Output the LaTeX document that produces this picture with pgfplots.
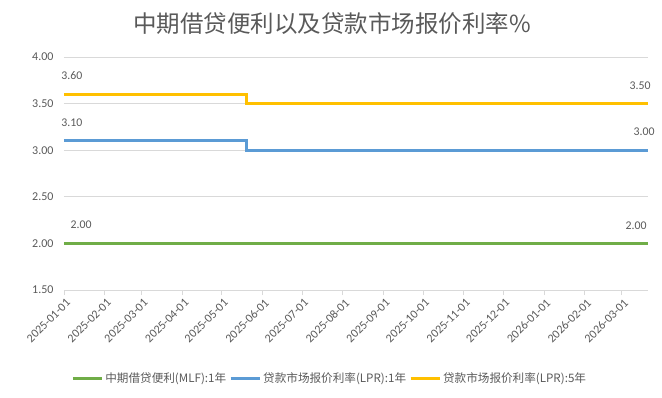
\documentclass[border=0pt]{standalone}
\usepackage{pgfplots}
\pgfplotsset{compat=1.18}
\usepackage{fontspec}
\setmainfont{Carlito}
\newfontfamily\cjk{Noto Sans CJK SC}
\definecolor{cgreen}{HTML}{70AD47}
\definecolor{cblue}{HTML}{5B9BD5}
\definecolor{cyellow}{HTML}{FFC000}
\definecolor{cgrid}{HTML}{D9D9D9}
\definecolor{ctext}{HTML}{595959}
\begin{document}
\begin{tikzpicture}[x=1pt,y=1pt]
\path[use as bounding box] (0,0) rectangle (662,397);
\node[font=\cjk\fontsize{23.5}{26}\selectfont, text=ctext] at (332,373) {中期借贷便利以及贷款市场报价利率\%};
\begin{axis}[
  at={(64pt,107pt)}, anchor=south west,
  scale only axis, width=584pt, height=233pt,
  xmin=0, xmax=444, ymin=1.5, ymax=4.0,
  ytick={1.5,2,2.5,3,3.5,4},
  yticklabel style={/pgf/number format/fixed,/pgf/number format/fixed zerofill,/pgf/number format/precision=2, font=\fontsize{12}{14}\selectfont, text=ctext, xshift=-2pt},
  /pgf/number format/assume math mode=true,
  xtick={0,31,59,90,120,151,181,212,243,273,304,334,365,396,424},
  xticklabels={2025-01-01,2025-02-01,2025-03-01,2025-04-01,2025-05-01,2025-06-01,2025-07-01,2025-08-01,2025-09-01,2025-10-01,2025-11-01,2025-12-01,2026-01-01,2026-02-01,2026-03-01},
  xticklabel style={rotate=45, anchor=north east, font=\fontsize{12}{14}\selectfont, text=ctext, inner sep=1pt, yshift=-2pt},
  ymajorgrids, grid style={cgrid, line width=0.8pt},
  axis x line*=bottom, axis y line*=left,
  x axis line style={cgrid, line width=0.8pt, -},
  y axis line style={draw=none},
  xtick style={cgrid, line width=0.8pt},
  tick align=outside, major tick length=5pt,
  ytick style={draw=none},
  clip=false,
  legend columns=3,
  legend style={at={(0.455,-0.378)}, anchor=center, draw=none, fill=none,
    font=\cjk\fontsize{11.6}{13}\selectfont, text=ctext,
    /tikz/every even column/.append style={column sep=1pt}},
  legend image code/.code={\draw[#1, line width=3pt] (0pt,0pt) -- (29pt,0pt);},
]
\addplot[cgreen, line width=3pt, const plot] coordinates {(0,2.00) (139,2.00) (444,2.00)};
\addlegendentry{中期借贷便利(MLF):1年}
\addplot[cblue, line width=3pt, const plot] coordinates {(0,3.10) (139,3.00) (444,3.00)};
\addlegendentry{贷款市场报价利率(LPR):1年}
\addplot[cyellow, line width=3pt, const plot] coordinates {(0,3.60) (139,3.50) (444,3.50)};
\addlegendentry{贷款市场报价利率(LPR):5年}
\begin{scope}[every node/.style={font=\fontsize{11.8}{13}\selectfont, text=ctext}]
\node at (axis cs:6,3.796) {3.60};
\node at (axis cs:6,3.30) {3.10};
\node at (axis cs:13,2.197) {2.00};
\node at (axis cs:438,3.689) {3.50};
\node at (axis cs:441,3.195) {3.00};
\node at (axis cs:435,2.187) {2.00};
\end{scope}
\end{axis}
\end{tikzpicture}
\end{document}
